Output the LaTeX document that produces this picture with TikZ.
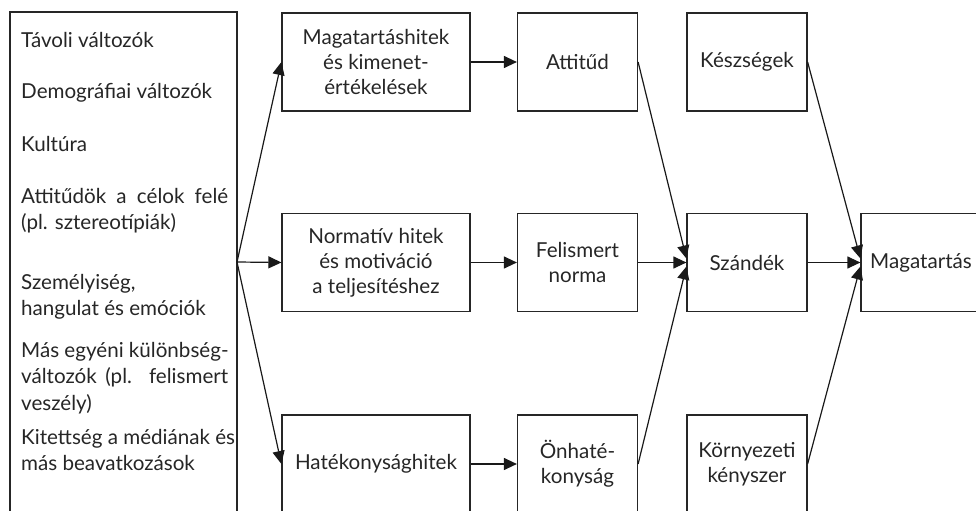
\documentclass[tikz,border=0pt]{standalone}
\usepackage{fontspec}
\setmainfont{Lato}
\usetikzlibrary{arrows.meta}

\newcommand{\diagfont}{\fontsize{20.6bp}{25bp}\selectfont}
\newcommand{\jline}[1]{\makebox[207bp][s]{#1}}

\tikzset{
  box/.style={draw=black!85, line width=1.2bp, align=center, inner sep=0pt,
    font=\diagfont, text=black!85, minimum height=98bp},
  wide/.style={box, minimum width=188bp},
  narrow/.style={box, minimum width=120bp},
  item/.style={anchor=base west, inner sep=0pt, font=\diagfont, text=black!85},
  arr/.style={draw=black!90, line width=1.2bp, -{Triangle[length=13bp,width=12bp]}},
}

\begin{document}
\begin{tikzpicture}[x=1bp,y=-1bp]
\useasboundingbox (0,0) rectangle (976,511);
\clip (0,0) rectangle (976,511);

% source variables
\draw[draw=black!85, line width=1.2bp] (10,540) -- (10,12) -- (237,12) -- (237,540);
\node[item] (l1)  at (21,48)  {Távoli változók};
\node[item] (l2)  at (21,99)  {Demográfiai változók};
\node[item] (l3)  at (21,152) {Kultúra};
\node[item] (l4)  at (21,204) {\jline{Attitűdök a célok felé}};
\node[item] (l5)  at (21,230) {(pl. sztereotípiák)};
\node[item] (l6)  at (21,290) {Személyiség,};
\node[item] (l7)  at (21,316) {hangulat és emóciók};
\node[item] (l8)  at (21,358) {Más egyéni különbség-};
\node[item] (l9)  at (21,384) {\jline{változók (pl. felismert}};
\node[item] (l10) at (21,410) {veszély)};
\node[item] (l11) at (21,444) {Kitettség a médiának és};
\node[item] (l12) at (21,470) {más beavatkozások};
\coordinate (o) at (237,262);

% beliefs
\node[wide] (bh) at (376,62)  {Magatartáshitek\\és kimenet-\\értékelések};
\node[wide] (nh) at (376,262.5) {Normatív hitek\\és motiváció\\a teljesítéshez};
\node[wide] (hh) at (376,464) {Hatékonysághitek};

% determinants
\node[narrow] (at) at (577.5,62)  {Attitűd};
\node[narrow] (fn) at (577.5,262.5) {Felismert\\norma};
\node[narrow] (on) at (577.5,464) {Önhaté-\\konyság};

\node[narrow] (ks) at (747,62)  {Készségek};
\node[narrow] (sz) at (747,262.5) {Szándék};
\node[narrow] (kk) at (747,464) {Környezeti\\kényszer};

\node[narrow] (mg) at (921,262.5) {Magatartás};

% connectors
\draw[arr] (o) -- (bh.west);
\draw[arr] (o) -- (nh.west);
\draw[arr] (o) -- (hh.west);

\draw[arr] (bh) -- (at);
\draw[arr] (nh) -- (fn);
\draw[arr] (hh) -- (on);

\draw[arr] (at.east) -- ([yshift=4bp]sz.west);
\draw[arr] (fn) -- (sz);
\draw[arr] (on.east) -- ([yshift=-4bp]sz.west);

\draw[arr] (ks.east) -- ([yshift=4bp]mg.west);
\draw[arr] (sz) -- (mg);
\draw[arr] (kk.east) -- ([yshift=-4bp]mg.west);
\end{tikzpicture}
\end{document}
